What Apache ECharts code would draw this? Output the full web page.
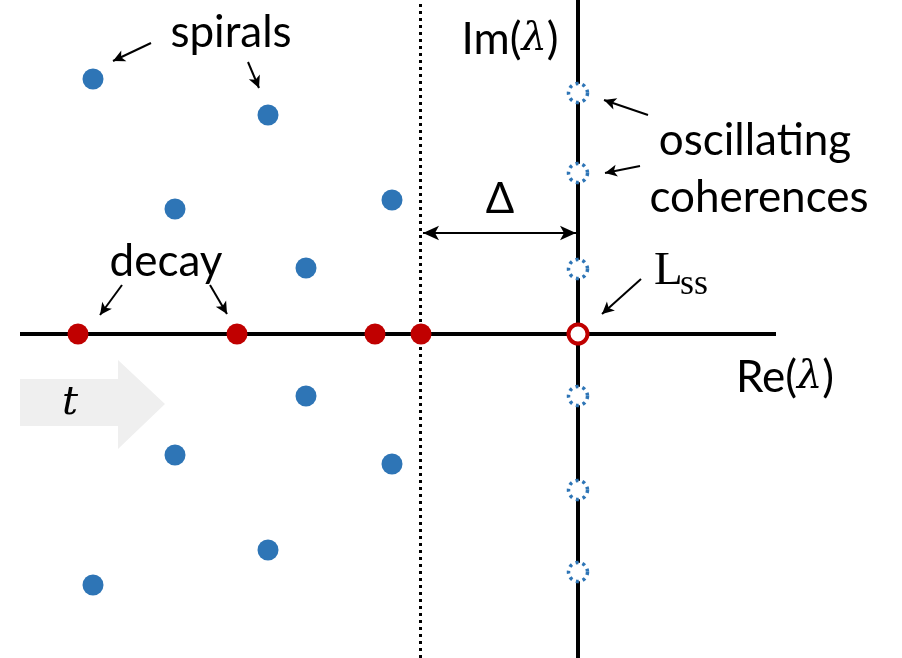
<!DOCTYPE html>
<html>
<head>
    <meta charset="utf-8">
    <title></title>
    <script src="https://cdn.jsdelivr.net/npm/echarts@6/dist/echarts.min.js"></script>
    <style>
        html, body { margin: 0; padding: 0; background: #fff; }
        #main { width: 902px; height: 658px; }
    </style>
</head>
<body>
<div id="main"></div>
<script type="text/javascript">
    // eigenvalues in the complex plane (Re, Im), L_ss at the origin
    var spiralRe = [-485, -310, -403, -186, -272, -272, -403, -186, -310, -485];
    var spiralIm = [255, 219, 125, 134, 66, -62, -121, -130, -216, -251];
    var decayRe = [-500, -341, -203, -157];
    var coherenceIm = [241, 161, 65, -62, -156, -238];
    var lssPoint = [0, 0];
    var gapRe = -158; // dotted line, the gap Delta

    var blue = '#2e75b6';
    var red = '#c00000';

    var spirals = spiralRe.map(function (x, i) { return [x, spiralIm[i]]; });
    var decay = decayRe.map(function (x) { return [x, 0]; });
    var coherences = coherenceIm.map(function (y) { return [0, y]; });

    function seg(a, b) {
        return [{coord: a}, {coord: b}];
    }

    var lato = '44px Lato';
    var rich = {
        a: {font: '44px Lato', fill: '#000'},
        b: {font: 'italic 40px "DejaVu Serif"', fill: '#000'}
    };

    function label(x, y, text, font) {
        return {
            type: 'text', z: 10,
            style: {x: x, y: y, text: text, font: font || lato, fill: '#000', textAlign: 'center', textVerticalAlign: 'middle'}
        };
    }

    var chart = echarts.init(document.getElementById('main'));
    var option = {
        animation: false,
        grid: {left: 0, right: 0, top: 0, bottom: 0},
        xAxis: {type: 'value', min: -578, max: 324, show: false},
        yAxis: {type: 'value', min: -324, max: 334, show: false},
        graphic: [
            // time arrow
            {
                type: 'polygon', z: 0,
                shape: {points: [[20, 379], [118, 379], [118, 360], [165, 404], [118, 449], [118, 426], [20, 426]]},
                style: {fill: '#efefef'}
            },
            label(70, 404, 't', 'italic 40px "DejaVu Serif"'),
            label(231, 33, 'spirals'),
            label(166, 262, 'decay'),
            label(755, 141, 'oscillating'),
            label(759, 198, 'coherences'),
            label(500, 199, 'Δ', '42px Lato'),
            {
                type: 'text', z: 10,
                style: {x: 510, y: 40, text: '{a|Im(}{b|λ}{a|)}', rich: rich, textAlign: 'center', textVerticalAlign: 'middle'}
            },
            {
                type: 'text', z: 10,
                style: {x: 785, y: 378, text: '{a|Re(}{b|λ}{a|)}', rich: rich, textAlign: 'center', textVerticalAlign: 'middle'}
            },
            {type: 'text', style: {x: 654, y: 272, text: 'L', font: '47px "Liberation Serif"', fill: '#000', textAlign: 'left', textVerticalAlign: 'middle'}},
            {type: 'text', style: {x: 680, y: 285, text: 'ss', font: '36px "Liberation Serif"', fill: '#000', textAlign: 'left', textVerticalAlign: 'middle'}}
        ],
        series: [
            {
                // axes and the dotted gap line
                type: 'line', data: [], silent: true, z: 1,
                markLine: {
                    silent: true,
                    symbol: ['none', 'none'],
                    label: {show: false},
                    lineStyle: {color: '#000', width: 4, type: 'solid'},
                    data: [
                        seg([-558, 0], [198, 0]),
                        seg([0, -324], [0, 334]),
                        [{coord: [gapRe, -324], lineStyle: {width: 3, type: [3, 4], color: '#000'}}, {coord: [gapRe, 334]}]
                    ]
                }
            },
            {
                // annotation arrows
                type: 'line', data: [], silent: true, z: 1,
                markLine: {
                    silent: true,
                    symbol: ['none', 'arrow'],
                    symbolSize: [9, 12],
                    label: {show: false},
                    lineStyle: {color: '#000', width: 2, type: 'solid'},
                    data: [
                        seg([-427, 291], [-465, 273]),
                        seg([-330, 272], [-319, 246]),
                        seg([-456, 49], [-478, 19]),
                        seg([-368, 49], [-351, 20]),
                        seg([70, 219], [26, 234]),
                        seg([62, 168], [27, 161]),
                        seg([63, 55], [24, 20])
                    ]
                }
            },
            {
                type: 'line', data: [], silent: true, z: 1,
                markLine: {
                    silent: true,
                    symbol: ['arrow', 'arrow'],
                    symbolSize: [11, 16],
                    label: {show: false},
                    lineStyle: {color: '#000', width: 2, type: 'solid'},
                    data: [seg([gapRe + 3, 101], [-2, 101])]
                }
            },
            {
                name: 'spirals', type: 'scatter', data: spirals, z: 5,
                symbol: 'circle', symbolSize: 21,
                itemStyle: {color: blue, opacity: 1}
            },
            {
                name: 'decay', type: 'scatter', data: decay, z: 5,
                symbol: 'circle', symbolSize: 21,
                itemStyle: {color: red, opacity: 1}
            },
            {
                name: 'coherences', type: 'scatter', data: coherences, z: 5,
                symbol: 'circle', symbolSize: 19,
                itemStyle: {color: '#fff', opacity: 1, borderColor: blue, borderWidth: 3.5, borderType: [3, 4]}
            },
            {
                name: 'Lss', type: 'scatter', data: [lssPoint], z: 5,
                symbol: 'circle', symbolSize: 19,
                itemStyle: {color: '#fff', opacity: 1, borderColor: red, borderWidth: 4}
            }
        ]
    };
    chart.setOption(option);
</script>
</body>
</html>
